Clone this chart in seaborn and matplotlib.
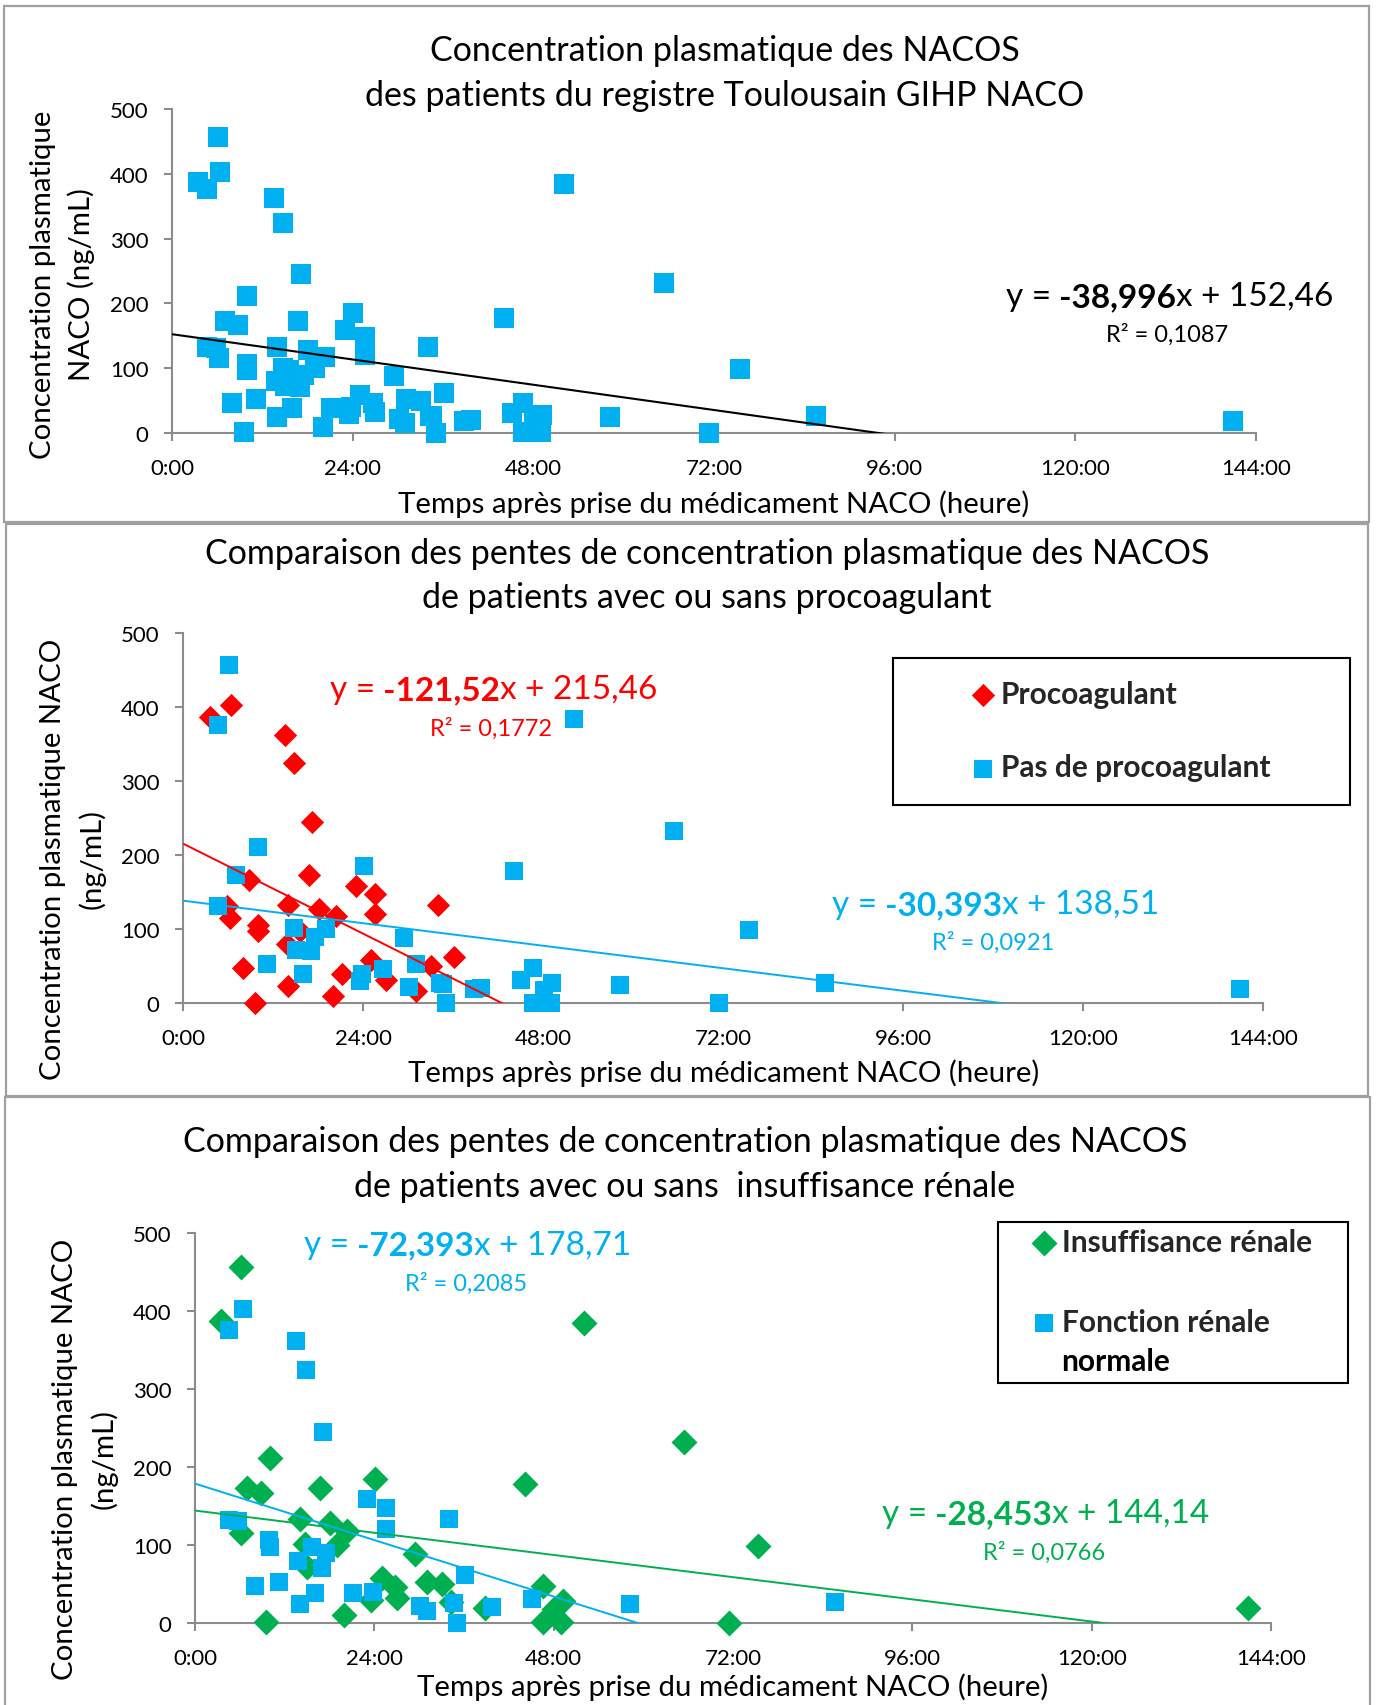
import numpy as np
import pandas as pd
import matplotlib
matplotlib.use("Agg")
import matplotlib.pyplot as plt
from matplotlib.patches import Rectangle
import seaborn as sns

# ---------------------------------------------------------------------------
# Data: time since last NACO intake (hours) and plasma concentration (ng/mL)
# ---------------------------------------------------------------------------
time_h = [3.5, 6.4, 13.5, 14.8, 17.1, 16.7, 8.8, 14.0, 18.1, 20.3,
          23.0, 25.6, 25.6, 34.0, 5.8, 6.2, 9.9, 10.0, 8.0, 9.5,
          13.8, 14.0, 20.0, 21.1, 25.0, 27.0, 31.0, 33.1, 36.1, 15.6,
          6.1, 4.6, 10.0, 7.0, 4.6, 24.1, 44.1, 14.7, 15.0, 17.0,
          17.5, 19.0, 11.2, 16.0, 23.5, 23.8, 26.7, 29.5, 31.1, 30.1,
          34.6, 34.3, 35.1, 38.8, 39.7, 45.1, 46.6, 46.6, 48.1, 49.2,
          49.0, 52.1, 65.4, 75.4, 58.2, 71.4, 85.6, 140.9]
conc_ng_ml = [387, 403, 362, 324, 245, 173, 167, 133, 128, 118,
              159, 148, 120, 133, 131, 115, 106, 97, 47, 1,
              80, 24, 10, 39, 58, 32, 16, 50, 62, 97,
              457, 376, 211, 173, 132, 185, 178, 101, 72, 71,
              90, 100, 53, 39, 30, 40, 46, 88, 53, 22,
              26, 27, 0, 19, 20, 31, 47, 1, 18, 28,
              1, 384, 232, 99, 25, 0, 27, 19]
# 1 = patient received a procoagulant
procoagulant = [1, 1, 1, 1, 1, 1, 1, 1, 1, 1,
                1, 1, 1, 1, 1, 1, 1, 1, 1, 1,
                1, 1, 1, 1, 1, 1, 1, 1, 1, 1,
                0, 0, 0, 0, 0, 0, 0, 0, 0, 0,
                0, 0, 0, 0, 0, 0, 0, 0, 0, 0,
                0, 0, 0, 0, 0, 0, 0, 0, 0, 0,
                0, 0, 0, 0, 0, 0, 0, 0]
# 1 = renal insufficiency
insuffisance_renale = [1, 0, 0, 0, 0, 1, 1, 1, 1, 1,
                       0, 0, 0, 0, 0, 1, 0, 0, 0, 1,
                       0, 0, 1, 0, 1, 1, 0, 1, 0, 0,
                       1, 0, 1, 1, 0, 1, 1, 1, 1, 0,
                       0, 1, 0, 0, 1, 0, 1, 1, 1, 0,
                       0, 1, 0, 1, 0, 0, 1, 1, 1, 1,
                       1, 1, 1, 1, 0, 1, 0, 1]

# Linear trend lines (x in days): slope, intercept, R²
trend_tous = (-38.996, 152.46, 0.1087)
trend_proco = (-121.52, 215.46, 0.1772)
trend_sans_proco = (-30.393, 138.51, 0.0921)
trend_ir = (-28.453, 144.14, 0.0766)
trend_normale = (-72.393, 178.71, 0.2085)

x_ticks_h = [0, 24, 48, 72, 96, 120, 144]
x_tick_labels = ["0:00", "24:00", "48:00", "72:00", "96:00", "120:00", "144:00"]
y_ticks = [0, 100, 200, 300, 400, 500]

df = pd.DataFrame({
    "jours": np.array(time_h) / 24.0,
    "conc": conc_ng_ml,
    "proco": np.array(procoagulant, dtype=bool),
    "ir": np.array(insuffisance_renale, dtype=bool),
})

BLUE = "#00B0F0"
RED = "#FF0000"
GREEN = "#00B050"
AXIS_GREY = "#8C8C8C"
FRAME_GREY = "#A0A0A0"

TITLE_SIZE = 24.5
LABEL_SIZE = 21.2
TICK_SIZE = 16
LEGEND_SIZE = 21.5

W, H = 1376, 1706
sns.set_theme(style="ticks")
plt.rcParams["font.family"] = ["Lato", "DejaVu Sans"]

fig = plt.figure(figsize=(W / 100, H / 100), dpi=100)
fig.patch.set_facecolor("white")


def fx(px):
    return px / W


def fy(py):
    return 1 - py / H


def make_axes(left, top, right, bottom):
    return fig.add_axes([fx(left), fy(bottom), (right - left) / W, (bottom - top) / H])


def style_axes(ax, xlabel_y, ylabel, ylabel_xy):
    ax.set_xlim(0, 6)
    ax.set_ylim(0, 500)
    ax.set_xticks([h / 24 for h in x_ticks_h])
    ax.set_xticklabels(x_tick_labels)
    ax.set_yticks(y_ticks)
    ax.set_facecolor("none")
    for s in ["top", "right"]:
        ax.spines[s].set_visible(False)
    for s in ["left", "bottom"]:
        ax.spines[s].set_color(AXIS_GREY)
        ax.spines[s].set_linewidth(1.5)
    ax.tick_params(axis="both", direction="out", length=6, width=1.5,
                   color=AXIS_GREY, labelsize=TICK_SIZE, labelcolor="black")
    ax.tick_params(axis="x", pad=12)
    ax.tick_params(axis="y", pad=11)
    ax.set_xlabel("Temps après prise du médicament NACO (heure)",
                  fontsize=LABEL_SIZE, color="black", va="center")
    ax.xaxis.set_label_coords(0.5, xlabel_y)
    ax.set_ylabel(ylabel, fontsize=LABEL_SIZE, color="black", va="center",
                  ha="center", linespacing=1.5)
    ax.yaxis.set_label_coords(*ylabel_xy)


def trend_line(ax, coef, color, lw):
    xs = np.array([0.0, 6.0])
    ax.plot(xs, coef[0] * xs + coef[1], color=color, lw=lw, zorder=5,
            solid_capstyle="butt")


def fr(v, fmt):
    return format(v, fmt).replace(".", ",")


def equation(ax, x_left, y_mid, coef, color, r2_x, r2_y, size=24, r2_size=17):
    slope, icpt, r2 = coef
    t1 = fig.text(fx(x_left), fy(y_mid), "y =", color=color, fontsize=size,
                  ha="left", va="center")
    t2 = ax.annotate(" " + fr(slope, ".5g"), xy=(1, 0), xycoords=t1,
                     ha="left", va="bottom", color=color, fontsize=size,
                     fontweight="bold")
    ax.annotate("x + " + fr(icpt, ".5g"), xy=(1, 0), xycoords=t2,
                ha="left", va="bottom", color=color, fontsize=size)
    fig.text(fx(r2_x), fy(r2_y), "R² = " + fr(r2, ".4f"), color=color,
             fontsize=r2_size, ha="center", va="center")


def title(lines, x_center, ys):
    for txt, y in zip(lines, ys):
        fig.text(fx(x_center), fy(y), txt, fontsize=TITLE_SIZE, ha="center",
                 va="center", color="black")


def frame(left, top, right, bottom, color, lw):
    fig.add_artist(Rectangle((fx(left), fy(bottom)), (right - left) / W,
                             (bottom - top) / H, transform=fig.transFigure,
                             fill=False, edgecolor=color, linewidth=lw,
                             zorder=10))


def legend(ax, x_anchor, y_center, spacing):
    ax.legend(loc="center left", bbox_to_anchor=(fx(x_anchor), fy(y_center)),
              bbox_transform=fig.transFigure, frameon=False, borderpad=0,
              handlelength=1.0, handletextpad=0.1, labelspacing=spacing,
              prop={"weight": "bold", "size": LEGEND_SIZE})


# Panel frames
frame(4, 7, 1369, 523, FRAME_GREY, 1.6)
frame(6, 525, 1368, 1097, FRAME_GREY, 1.6)
frame(5, 1098, 1370, 1712, FRAME_GREY, 1.6)

# ---------------------------------------------------------------- panel 1
ax1 = make_axes(172, 110, 1256, 434)
sns.scatterplot(data=df, x="jours", y="conc", marker="s", s=205,
                color=BLUE, linewidth=0, ax=ax1, clip_on=False, zorder=3)
trend_line(ax1, trend_tous, "black", 1.5)
style_axes(ax1, (434 - 504) / 324, "Concentration plasmatique\nNACO (ng/mL)",
           ((62.6 - 172) / 1084, (434 - 285) / 324))
title(["Concentration plasmatique des NACOS",
       "des patients du registre Toulousain GIHP NACO"], 725, [51, 96])
equation(ax1, 1006, 297, trend_tous, "black", 1167, 335)

# ---------------------------------------------------------------- panel 2
ax2 = make_axes(183.3, 634, 1263, 1004.3)
sns.scatterplot(data=df[df["proco"]], x="jours", y="conc", marker="D", s=140,
                color=RED, linewidth=0, ax=ax2, clip_on=False, zorder=3,
                label="Procoagulant")
sns.scatterplot(data=df[~df["proco"]], x="jours", y="conc", marker="s", s=180,
                color=BLUE, linewidth=0, ax=ax2, clip_on=False, zorder=4,
                label="Pas de procoagulant")
trend_line(ax2, trend_proco, RED, 1.4)
trend_line(ax2, trend_sans_proco, BLUE, 1.4)
style_axes(ax2, (1004.3 - 1073.6) / 370.3,
           "Concentration plasmatique NACO\n(ng/mL)",
           ((72.8 - 183.3) / 1079.7, (1004.3 - 859) / 370.3))
title(["Comparaison des pentes de concentration plasmatique des NACOS",
       "de patients avec ou sans procoagulant"], 707, [554, 598])
equation(ax2, 330, 690, trend_proco, RED, 491, 729)
equation(ax2, 832, 905, trend_sans_proco, BLUE, 993, 943)
frame(893, 659, 1350, 806, "black", 1.5)
legend(ax2, 953, 731.5, 1.53)

# ---------------------------------------------------------------- panel 3
ax3 = make_axes(195, 1234, 1271, 1624)
sns.scatterplot(data=df[df["ir"]], x="jours", y="conc", marker="D", s=175,
                color=GREEN, linewidth=0, ax=ax3, clip_on=False, zorder=3,
                label="Insuffisance rénale")
sns.scatterplot(data=df[~df["ir"]], x="jours", y="conc", marker="s", s=185,
                color=BLUE, linewidth=0, ax=ax3, clip_on=False, zorder=4,
                label="Fonction rénale")
trend_line(ax3, trend_ir, GREEN, 1.4)
trend_line(ax3, trend_normale, BLUE, 1.4)
style_axes(ax3, (1624 - 1687) / 390,
           "Concentration plasmatique NACO\n(ng/mL)",
           ((84.7 - 195) / 1076, (1624 - 1459) / 390))
title(["Comparaison des pentes de concentration plasmatique des NACOS",
       "de patients avec ou sans  insuffisance rénale"], 685, [1142, 1187])
equation(ax3, 303.5, 1245.5, trend_normale, BLUE, 465.6, 1283.6)
equation(ax3, 882, 1514, trend_ir, GREEN, 1044.3, 1553)
frame(997.5, 1222.7, 1348, 1383.7, "black", 1.5)
legend(ax3, 1014, 1283, 1.75)
fig.text(fx(1061), fy(1362), "normale", fontsize=LEGEND_SIZE, fontweight="bold",
         ha="left", va="center", color="black")

fig.savefig("out.png", dpi=100, facecolor="white")
